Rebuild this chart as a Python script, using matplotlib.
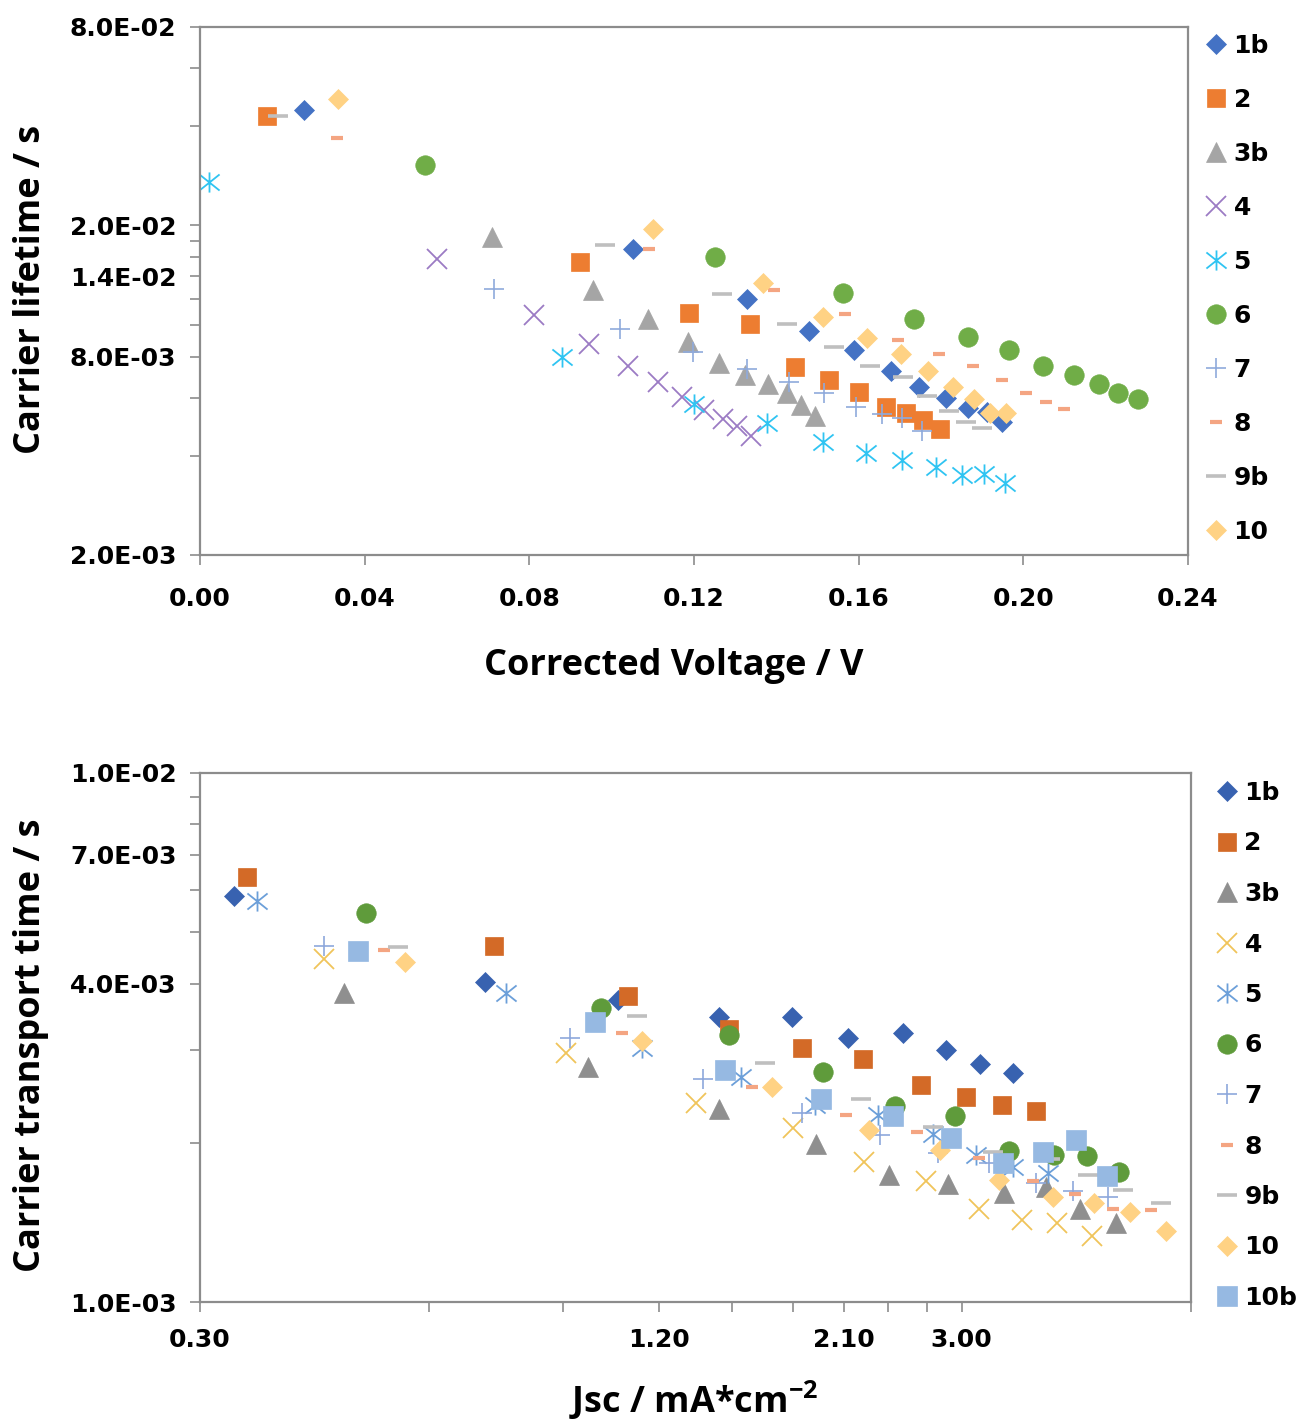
import matplotlib
matplotlib.use('Agg')
import matplotlib.pyplot as plt
from matplotlib.path import Path
from matplotlib.ticker import FixedLocator, NullFormatter, FuncFormatter

plt.rcParams['mathtext.default'] = 'regular'

# ---------------- Top chart: carrier lifetime vs corrected voltage ----------------
top_labels = ['1b', '2', '3b', '4', '5', '6', '7', '8', '9b', '10']

v_1b = [0.0253, 0.1053, 0.1328, 0.1479, 0.1589, 0.1679, 0.1747, 0.1812, 0.1865, 0.1912, 0.1947]
tau_1b = [0.0449, 0.0170, 0.01194, 0.00959, 0.00838, 0.00725, 0.00649, 0.00601, 0.00557, 0.00545, 0.00508]
v_2 = [0.0162, 0.0923, 0.1189, 0.1336, 0.1445, 0.1529, 0.1602, 0.1666, 0.1715, 0.1756, 0.1798]
tau_2 = [0.0430, 0.01552, 0.01082, 0.01004, 0.00742, 0.00679, 0.00626, 0.00561, 0.00538, 0.00512, 0.00481]
v_3b = [0.0709, 0.0955, 0.1088, 0.1185, 0.1261, 0.1325, 0.1380, 0.1425, 0.1460, 0.1494]
tau_3b = [0.01849, 0.01278, 0.01038, 0.00888, 0.00763, 0.00703, 0.00660, 0.00619, 0.00570, 0.00529]
v_4 = [0.0576, 0.0812, 0.0946, 0.1040, 0.1112, 0.1172, 0.1225, 0.1270, 0.1304, 0.1338]
tau_4 = [0.01578, 0.01070, 0.00874, 0.00749, 0.00671, 0.00604, 0.00551, 0.00516, 0.00493, 0.00459]
v_5 = [0.0023, 0.0879, 0.1201, 0.1377, 0.1513, 0.1617, 0.1706, 0.1788, 0.1851, 0.1905, 0.1955]
tau_5 = [0.0270, 0.00799, 0.00574, 0.00502, 0.00441, 0.00407, 0.00388, 0.00369, 0.00350, 0.00353, 0.00331]
v_6 = [0.0547, 0.1251, 0.1561, 0.1735, 0.1865, 0.1966, 0.2048, 0.2123, 0.2184, 0.2231, 0.2278]
tau_6 = [0.0304, 0.01607, 0.01245, 0.01039, 0.00915, 0.00838, 0.00749, 0.00703, 0.00660, 0.00619, 0.00594]
v_7 = [0.0714, 0.1020, 0.1197, 0.1328, 0.1431, 0.1517, 0.1594, 0.1656, 0.1705, 0.1753]
tau_7 = [0.01285, 0.00972, 0.00828, 0.00732, 0.00668, 0.00622, 0.00561, 0.00535, 0.00522, 0.00474]
v_8 = [0.0333, 0.1091, 0.1394, 0.1568, 0.1696, 0.1796, 0.1878, 0.1947, 0.2006, 0.2054, 0.2099]
tau_8 = [0.0368, 0.0170, 0.01274, 0.01077, 0.00898, 0.00815, 0.00749, 0.00679, 0.00619, 0.00581, 0.00555]
v_9b = [0.0190, 0.0984, 0.1267, 0.1425, 0.1541, 0.1628, 0.1708, 0.1766, 0.1820, 0.1861, 0.1899]
tau_9b = [0.0430, 0.01748, 0.01236, 0.01004, 0.00853, 0.00751, 0.00692, 0.00608, 0.00546, 0.00508, 0.00485]
v_10 = [0.0335, 0.1100, 0.1368, 0.1513, 0.1621, 0.1703, 0.1769, 0.1830, 0.1880, 0.1919, 0.1958]
tau_10 = [0.0483, 0.01947, 0.01340, 0.01053, 0.00909, 0.00815, 0.00724, 0.00645, 0.00594, 0.00541, 0.00538]

top_x_ticks = [0.00, 0.04, 0.08, 0.12, 0.16, 0.20, 0.24]
top_y_major = [2.0e-3, 8.0e-3, 1.4e-2, 2.0e-2, 8.0e-2]
top_y_minor = [4e-3, 6e-3, 1.0e-2, 1.2e-2, 1.6e-2, 1.8e-2, 4e-2, 6e-2]

# ---------------- Bottom chart: carrier transport time vs Jsc ----------------
bot_labels = ['1b', '2', '3b', '4', '5', '6', '7', '8', '9b', '10', '10b']

j_1b = [0.332, 0.710, 1.062, 1.440, 1.795, 2.129, 2.514, 2.861, 3.171, 3.507]
t_1b = [5.86e-3, 4.03e-3, 3.72e-3, 3.46e-3, 3.45e-3, 3.16e-3, 3.23e-3, 2.99e-3, 2.82e-3, 2.71e-3]
j_2 = [0.346, 0.730, 1.095, 1.486, 1.853, 2.228, 2.650, 3.037, 3.385, 3.757]
t_2 = [6.37e-3, 4.71e-3, 3.79e-3, 3.28e-3, 3.02e-3, 2.88e-3, 2.57e-3, 2.44e-3, 2.36e-3, 2.30e-3]
j_3b = [0.464, 0.968, 1.440, 1.929, 2.405, 2.878, 3.409, 3.870, 4.290, 4.780]
t_3b = [3.83e-3, 2.78e-3, 2.32e-3, 1.99e-3, 1.74e-3, 1.67e-3, 1.61e-3, 1.65e-3, 1.50e-3, 1.41e-3]
j_4 = [0.437, 0.907, 1.342, 1.800, 2.235, 2.691, 3.162, 3.597, 4.006, 4.446]
t_4 = [4.45e-3, 2.95e-3, 2.38e-3, 2.13e-3, 1.84e-3, 1.69e-3, 1.50e-3, 1.43e-3, 1.41e-3, 1.33e-3]
j_5 = [0.356, 0.757, 1.140, 1.539, 1.925, 2.332, 2.753, 3.132, 3.507, 3.897]
t_5 = [5.73e-3, 3.84e-3, 3.02e-3, 2.66e-3, 2.36e-3, 2.26e-3, 2.08e-3, 1.90e-3, 1.80e-3, 1.75e-3]
j_6 = [0.495, 1.007, 1.486, 1.974, 2.455, 2.942, 3.465, 3.966, 4.377, 4.830]
t_6 = [5.44e-3, 3.59e-3, 3.20e-3, 2.72e-3, 2.35e-3, 2.25e-3, 1.93e-3, 1.90e-3, 1.89e-3, 1.76e-3]
j_7 = [0.437, 0.918, 1.371, 1.850, 2.342, 2.789, 3.262, 3.757, 4.203, 4.673]
t_7 = [4.70e-3, 3.16e-3, 2.64e-3, 2.28e-3, 2.07e-3, 1.91e-3, 1.83e-3, 1.68e-3, 1.62e-3, 1.58e-3]
j_8 = [0.523, 1.073, 1.593, 2.115, 2.619, 3.165, 3.726, 4.225, 4.743, 5.310]
t_8 = [4.63e-3, 3.23e-3, 2.55e-3, 2.26e-3, 2.10e-3, 1.87e-3, 1.69e-3, 1.60e-3, 1.50e-3, 1.49e-3]
j_9b = [0.546, 1.123, 1.655, 2.211, 2.753, 3.301, 3.917, 4.398, 4.890, 5.474]
t_9b = [4.68e-3, 3.47e-3, 2.83e-3, 2.42e-3, 2.14e-3, 1.92e-3, 1.86e-3, 1.74e-3, 1.63e-3, 1.54e-3]
j_10 = [0.557, 1.143, 1.689, 2.265, 2.810, 3.355, 3.958, 4.480, 4.989, 5.564]
t_10 = [4.39e-3, 3.11e-3, 2.55e-3, 2.11e-3, 1.94e-3, 1.70e-3, 1.58e-3, 1.54e-3, 1.48e-3, 1.36e-3]
j_10b = [0.483, 0.990, 1.467, 1.959, 2.434, 2.902, 3.396, 3.832, 4.239, 4.659]
t_10b = [4.61e-3, 3.39e-3, 2.75e-3, 2.42e-3, 2.25e-3, 2.04e-3, 1.83e-3, 1.92e-3, 2.02e-3, 1.73e-3]

bot_x_major = [0.30, 1.20, 2.10, 3.00]
bot_x_minor = [0.60, 0.90, 1.50, 1.80, 2.40, 2.70, 6.00]
bot_y_major = [1.0e-3, 4.0e-3, 7.0e-3, 1.0e-2]
bot_y_minor = [2e-3, 3e-3, 5e-3, 6e-3, 8e-3, 9e-3]

top_data = {
    '1b': (v_1b, tau_1b), '2': (v_2, tau_2), '3b': (v_3b, tau_3b), '4': (v_4, tau_4),
    '5': (v_5, tau_5), '6': (v_6, tau_6), '7': (v_7, tau_7), '8': (v_8, tau_8),
    '9b': (v_9b, tau_9b), '10': (v_10, tau_10),
}
bot_data = {
    '1b': (j_1b, t_1b), '2': (j_2, t_2), '3b': (j_3b, t_3b), '4': (j_4, t_4),
    '5': (j_5, t_5), '6': (j_6, t_6), '7': (j_7, t_7), '8': (j_8, t_8),
    '9b': (j_9b, t_9b), '10': (j_10, t_10), '10b': (j_10b, t_10b),
}

# ---------------- Styles ----------------
asterisk = Path([(0, -1), (0, 1), (-1, -0.8), (1, 0.8), (-1, 0.8), (1, -0.8)],
                [Path.MOVETO, Path.LINETO] * 3)

# marker, size, edge width, filled
marker_style = {
    '1b': ('D', 9.8, 0.5, True),
    '2': ('s', 13.5, 0.5, True),
    '3b': ('^', 14.0, 0.5, True),
    '4': ('x', 14.5, 1.3, False),
    '5': (asterisk, 14.5, 1.3, False),
    '6': ('o', 14.0, 0.5, True),
    '7': ('+', 14.5, 1.2, False),
    '8': ('_', 8.0, 3.0, False),
    '9b': ('_', 14.0, 2.6, False),
    '10': ('D', 9.8, 0.5, True),
    '10b': ('s', 14.0, 0.5, True),
}

top_colors = {'1b': '#4472C4', '2': '#ED7D31', '3b': '#A5A5A5', '4': '#9B7BC4',
              '5': '#2FC4F2', '6': '#70AD47', '7': '#8FAADC', '8': '#F4A582',
              '9b': '#BFBFBF', '10': '#FFD284'}
bot_colors = {'1b': '#3862B0', '2': '#D36A27', '3b': '#8F8F8F', '4': '#F0C45A',
              '5': '#6C9FD9', '6': '#5F9B3B', '7': '#8EA8DC', '8': '#F4A582',
              '9b': '#BFBFBF', '10': '#FFD284', '10b': '#96B9E2'}

SPINE = '#8C8C8C'
TICKFONT = dict(family='DejaVu Sans', weight='bold', size=18)
LEGFONT = dict(family='DejaVu Sans', weight='bold', size=18)
LABELFONT = dict(family='Open Sans', weight='bold', size=26)

fig = plt.figure(figsize=(12.98, 14.23), dpi=100)
W, H = 1298.0, 1423.0


def plot_series(ax, data, colors, labels):
    handles = []
    for lab in labels:
        x, y = data[lab]
        m, ms, mew, filled = marker_style[lab]
        c = colors[lab]
        ln, = ax.plot(x, y, linestyle='none', marker=m, markersize=ms,
                      markeredgewidth=mew, markeredgecolor=c,
                      markerfacecolor=c if filled else 'none', label=lab)
        handles.append(ln)
    return handles


def style_axes(ax):
    for s in ax.spines.values():
        s.set_color(SPINE)
        s.set_linewidth(1.6)
    ax.tick_params(axis='both', which='both', direction='out', length=7,
                   width=1.2, color=SPINE, top=False, right=False)
    for lab in ax.get_xticklabels() + ax.get_yticklabels():
        lab.set_fontfamily(TICKFONT['family'])
        lab.set_fontweight(TICKFONT['weight'])
        lab.set_fontsize(TICKFONT['size'])


# ---------- top axes ----------
ax1 = fig.add_axes([200 / W, 1 - 555 / H, 988 / W, 528 / H])
h1 = plot_series(ax1, top_data, top_colors, top_labels)
ax1.set_yscale('log')
ax1.set_xlim(0.0, 0.24)
ax1.set_ylim(2.0e-3, 8.0e-2)
ax1.xaxis.set_major_locator(FixedLocator(top_x_ticks))
ax1.xaxis.set_major_formatter(FuncFormatter(lambda v, p: f'{v:.2f}'))
ax1.yaxis.set_major_locator(FixedLocator(top_y_major))
ax1.yaxis.set_minor_locator(FixedLocator(top_y_minor))
ax1.yaxis.set_major_formatter(FuncFormatter(lambda v, p: f'{v:.1E}'))
ax1.yaxis.set_minor_formatter(NullFormatter())
style_axes(ax1)
ax1.tick_params(axis='x', pad=16)
ax1.tick_params(axis='y', pad=10)

leg1 = ax1.legend(handles=h1, loc='upper left',
                  bbox_to_anchor=(1203 / W, 1 - 34 / H), bbox_transform=fig.transFigure,
                  frameon=False, borderpad=0, borderaxespad=0, numpoints=1,
                  handlelength=1.0, handletextpad=0.22, labelspacing=1.2,
                  prop=LEGFONT)

fig.text(31 / W, 1 - 289 / H, 'Carrier lifetime / s', rotation=90,
         ha='center', va='center', **LABELFONT)
fig.text(674 / W, 1 - 666 / H, 'Corrected Voltage / V',
         ha='center', va='center', **LABELFONT)

# ---------- bottom axes ----------
ax2 = fig.add_axes([200 / W, 1 - 1302 / H, 991 / W, 529 / H])
h2 = plot_series(ax2, bot_data, bot_colors, bot_labels)
ax2.set_xscale('log')
ax2.set_yscale('log')
ax2.set_xlim(0.30, 6.0)
ax2.set_ylim(1.0e-3, 1.0e-2)
ax2.xaxis.set_major_locator(FixedLocator(bot_x_major))
ax2.xaxis.set_minor_locator(FixedLocator(bot_x_minor))
ax2.xaxis.set_major_formatter(FuncFormatter(lambda v, p: f'{v:.2f}'))
ax2.xaxis.set_minor_formatter(NullFormatter())
ax2.yaxis.set_major_locator(FixedLocator(bot_y_major))
ax2.yaxis.set_minor_locator(FixedLocator(bot_y_minor))
ax2.yaxis.set_major_formatter(FuncFormatter(lambda v, p: f'{v:.1E}'))
ax2.yaxis.set_minor_formatter(NullFormatter())
style_axes(ax2)
ax2.tick_params(axis='x', pad=12)
ax2.tick_params(axis='y', pad=10)

leg2 = ax2.legend(handles=h2, loc='upper left',
                  bbox_to_anchor=(1214 / W, 1 - 781 / H), bbox_transform=fig.transFigure,
                  frameon=False, borderpad=0, borderaxespad=0, numpoints=1,
                  handlelength=1.0, handletextpad=0.22, labelspacing=1.06,
                  prop=LEGFONT)

fig.text(31 / W, 1 - 1045 / H, 'Carrier transport time / s', rotation=90,
         ha='center', va='center', **LABELFONT)
fig.text(694 / W, 1 - 1400 / H, 'Jsc / mA*cm$^{-2}$',
         ha='center', va='center', **LABELFONT)

fig.savefig('out.png', dpi=100)
